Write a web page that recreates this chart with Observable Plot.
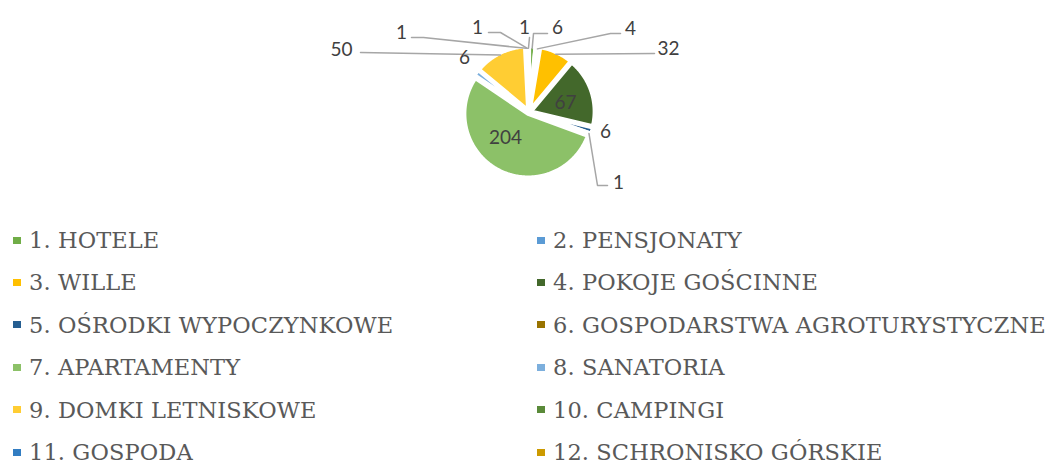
<!DOCTYPE html>
<html>
<head>
<meta charset="utf-8">
<script src="https://cdn.jsdelivr.net/npm/d3@7"></script>
<script src="https://cdn.jsdelivr.net/npm/@observablehq/plot@0.6"></script>
<style>
  html, body { margin: 0; padding: 0; background: #fff; }
  #wrap { position: relative; width: 1058px; height: 464px; overflow: hidden; }
  #legend { position: absolute; left: 0; top: 0; width: 1058px; }
  .row { position: absolute; height: 24px; line-height: 24px; display: flex; align-items: center; font-family: "DejaVu Serif", serif; font-size: 22.5px; letter-spacing: 0.1px; color: #595959; white-space: nowrap; }
  .sw { width: 8px; height: 7px; margin-right: 8px; flex: none; }
</style>
</head>
<body>
<div id="wrap"><div id="chart"></div><div id="legend"></div></div>
<script>
// ---- data ----
const categories = [
  "1. HOTELE", "2. PENSJONATY", "3. WILLE", "4. POKOJE GOŚCINNE",
  "5. OŚRODKI WYPOCZYNKOWE", "6. GOSPODARSTWA AGROTURYSTYCZNE", "7. APARTAMENTY", "8. SANATORIA",
  "9. DOMKI LETNISKOWE", "10. CAMPINGI", "11. GOSPODA", "12. SCHRONISKO GÓRSKIE"
];
const values = [6, 4, 32, 67, 6, 1, 204, 6, 50, 1, 1, 1];
const colors = [
  "#70AD47", "#5B9BD5", "#FFC000", "#43682B", "#255E91", "#997300",
  "#8CC168", "#7CAFDD", "#FFCD33", "#5A8A39", "#327DC2", "#CC9A00"
];

// ---- layout (pixels) ----
const W = 1058, H = 220;
const cx = 528.5, cy = 111.5, R = 63.7, explode = 2, border = 4;
// label placement and leader elbow points (null = no leader)
const labelLayout = {
  0: {x: 557, y: 27, leader: [[547, 33], [533, 33]]},
  1: {x: 630, y: 28, leader: [[620, 33], [610, 33]]},
  2: {x: 668, y: 48, leader: [[654, 53]]},
  3: {x: 565, y: 102, leader: null},
  4: {x: 605, y: 131, leader: null},
  5: {x: 618, y: 182, leader: [[607, 185], [597, 185]]},
  6: {x: 505, y: 137, leader: null},
  7: {x: 464, y: 57, leader: null},
  8: {x: 341, y: 49, leader: [[360, 52]]},
  9: {x: 401, y: 32, leader: [[411, 37], [423, 37]]},
  10: {x: 477, y: 27, leader: [[488, 32], [500, 32]]},
  11: {x: 524, y: 27, leader: [[529, 37]]}
};

const arcs = d3.pie().sort(null).startAngle(0).endAngle(2 * Math.PI)(values);
const pt = (x0, y0, r, a) => [x0 + r * Math.sin(a), y0 - r * Math.cos(a)];

const slicePts = [];
arcs.forEach((a, i) => {
  const mid = (a.startAngle + a.endAngle) / 2;
  const [ox, oy] = pt(cx, cy, explode, mid);
  slicePts.push({i, cat: categories[i], x: ox, y: oy});
  const n = Math.max(2, Math.ceil((a.endAngle - a.startAngle) / 0.01));
  for (let k = 0; k <= n; k++) {
    const ang = a.startAngle + (a.endAngle - a.startAngle) * k / n;
    const [x, y] = pt(ox, oy, R, ang);
    slicePts.push({i, cat: categories[i], x, y});
  }
});

const leaderPts = [];
const labels = [];
arcs.forEach((a, i) => {
  const L = labelLayout[i];
  labels.push({i, text: String(values[i]), x: L.x, y: L.y});
  if (L.leader) {
    const mid = (a.startAngle + a.endAngle) / 2;
    const [ex, ey] = pt(cx, cy, R + explode - 2, mid);
    L.leader.forEach(([x, y]) => leaderPts.push({i, x, y}));
    leaderPts.push({i, x: ex, y: ey});
  }
});

const chart = Plot.plot({
  width: W, height: H,
  margin: 0,
  x: {domain: [0, W], range: [0, W], axis: null},
  y: {domain: [0, H], range: [0, H], axis: null},
  color: {domain: categories, range: colors},
  marks: [
    Plot.line(slicePts, {x: "x", y: "y", z: "i", fill: "cat", stroke: "white", strokeWidth: border, strokeLinejoin: "round", curve: "linear-closed"}),
    Plot.line(leaderPts, {x: "x", y: "y", z: "i", stroke: "#A6A6A6", strokeWidth: 1.5}),
    Plot.text(labels, {x: "x", y: "y", text: "text", fill: "#404040", fontSize: 19, fontFamily: "Lato, 'Open Sans', sans-serif"})
  ],
  style: {background: "white"}
});
document.getElementById("chart").appendChild(chart);

// ---- legend ----
const legend = document.getElementById("legend");
categories.forEach((c, i) => {
  const row = document.createElement("div");
  row.className = "row";
  const col = i % 2, r = Math.floor(i / 2);
  row.style.left = (col === 0 ? 13 : 537) + "px";
  row.style.top = (240 + r * 42.4 - 12) + "px";
  const sw = document.createElement("span");
  sw.className = "sw";
  sw.style.background = colors[i];
  const t = document.createElement("span");
  t.textContent = c;
  row.appendChild(sw); row.appendChild(t);
  legend.appendChild(row);
});
</script>
</body>
</html>
